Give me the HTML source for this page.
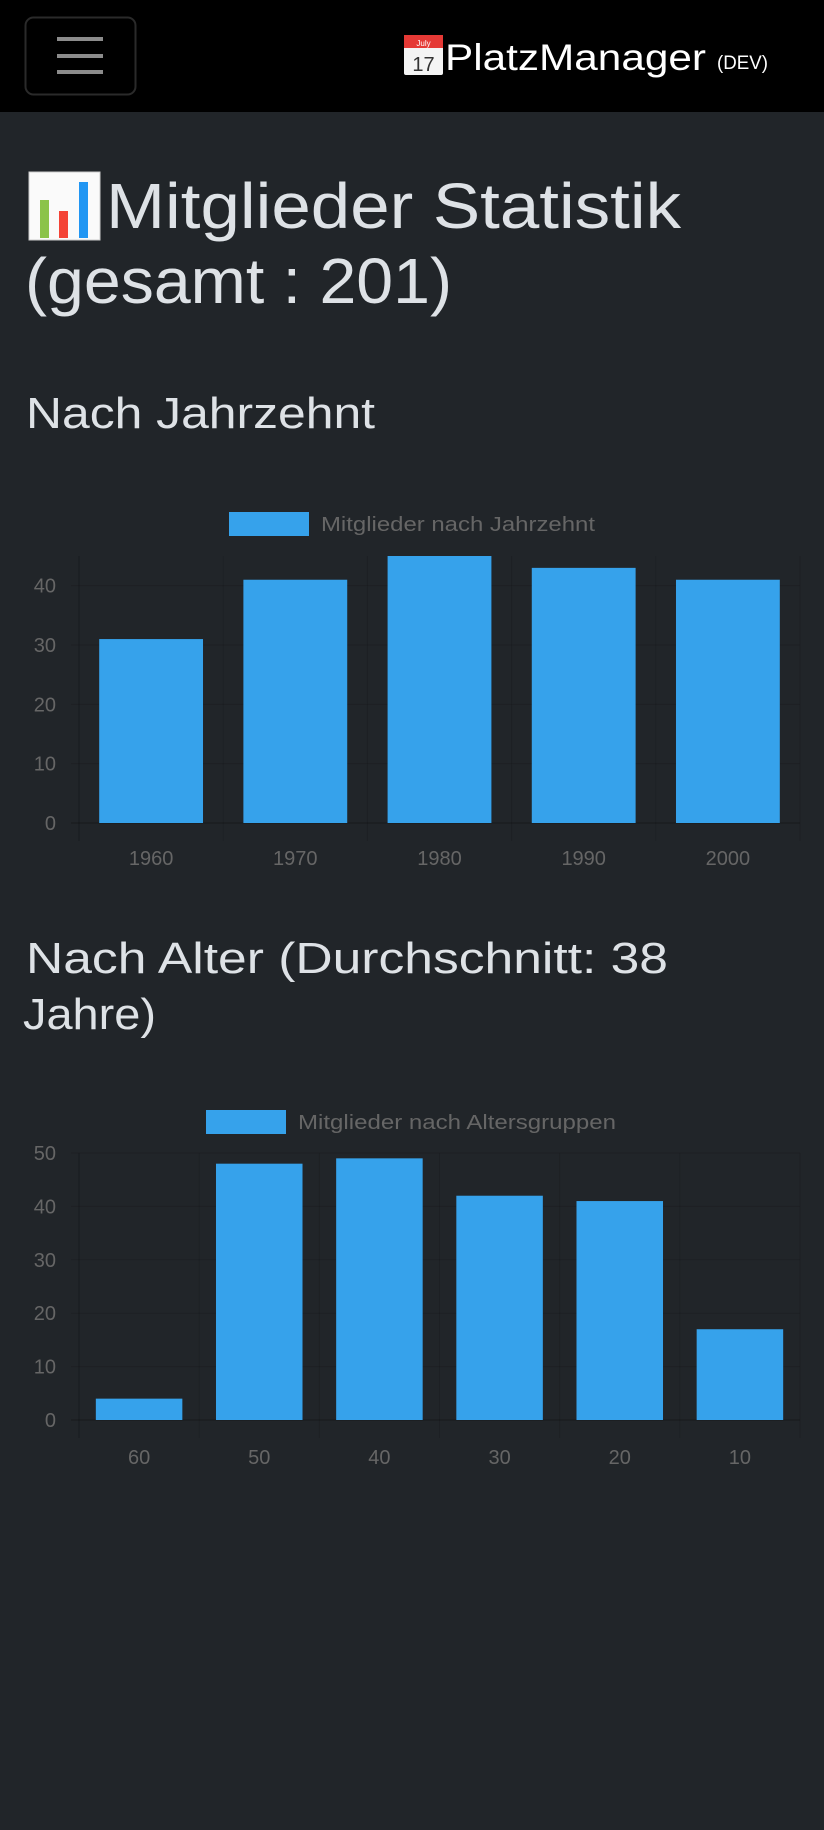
<!DOCTYPE html>
<html><head><meta charset="utf-8">
<style>
html,body{margin:0;padding:0;background:#212529;width:824px;height:1830px;overflow:hidden;font-family:"Liberation Sans",sans-serif;}
svg{position:absolute;left:0;top:0;}
</style></head>
<body>
<svg width="824" height="1830">
  <rect x="0" y="0" width="824" height="112" fill="#000"/>
  <g>
    <rect x="25.5" y="17.5" width="110" height="77" rx="8" fill="none" stroke="#2a2a2a" stroke-width="2"/>
    <rect x="57" y="37" width="46" height="4" fill="#8c8c8c"/>
    <rect x="57" y="54" width="46" height="4" fill="#8c8c8c"/>
    <rect x="57" y="70" width="46" height="4" fill="#8c8c8c"/>
  </g>
  <g>
    <rect x="404" y="35" width="39" height="40" rx="2" fill="#f4f4f4"/>
    <rect x="404" y="35" width="39" height="13" fill="#e53935"/>
    <text x="423.5" y="46" font-size="8" fill="#fff" text-anchor="middle">July</text>
    <text x="423.5" y="71" font-size="20" fill="#333" text-anchor="middle">17</text>
  </g>
  <text x="445" y="70" font-size="37" fill="#fff" textLength="261" lengthAdjust="spacingAndGlyphs">PlatzManager</text>
  <text x="717" y="69" font-size="19" fill="#fff" textLength="51" lengthAdjust="spacingAndGlyphs">(DEV)</text>

  <g>
    <rect x="29" y="172" width="71" height="68" fill="#fafafa" stroke="#ccc"/>
    <rect x="40" y="200" width="9" height="38" fill="#8bc34a"/>
    <rect x="59" y="211" width="9" height="27" fill="#f44336"/>
    <rect x="79" y="182" width="9" height="56" fill="#2196f3"/>
  </g>
  <text x="106" y="228" font-size="64" fill="#dee2e6" textLength="575" lengthAdjust="spacingAndGlyphs">Mitglieder Statistik</text>
  <text x="25" y="303" font-size="64" fill="#dee2e6" textLength="427" lengthAdjust="spacingAndGlyphs">(gesamt : 201)</text>

  <text x="26" y="428" font-size="44" fill="#dee2e6" textLength="349" lengthAdjust="spacingAndGlyphs">Nach Jahrzehnt</text>
  <text x="26" y="973" font-size="44" fill="#dee2e6" textLength="642" lengthAdjust="spacingAndGlyphs">Nach Alter (Durchschnitt: 38</text>
  <text x="23" y="1029" font-size="44" fill="#dee2e6" textLength="133" lengthAdjust="spacingAndGlyphs">Jahre)</text>

  <g id="chart1"></g>
  <g id="chart2"></g>
</svg>
<script>
const decadeCategories = ["1960","1970","1980","1990","2000"];
const decadeValues = [31, 41, 45, 43, 41];
const decadeTicks = [0, 10, 20, 30, 40];
const decadeMax = 45;
const ageCategories = ["60","50","40","30","20","10"];
const ageValues = [4, 48, 49, 42, 41, 17];
const ageTicks = [0, 10, 20, 30, 40, 50];
const ageMax = 50;

const NS = "http://www.w3.org/2000/svg";
function mk(tag, attrs, parent){
  const e = document.createElementNS(NS, tag);
  for (const k in attrs) e.setAttribute(k, attrs[k]);
  parent.appendChild(e);
  return e;
}
function drawChart(g, cats, vals, ticks, maxV, cfg, legendText){
  const left = 79, right = 800, top = cfg.top, bottom = cfg.bottom;
  const yScale = v => bottom - (v / maxV) * (bottom - top);
  const bandW = (right - left) / cats.length;
  const xScale = i => left + bandW * i;
  ticks.forEach(t => {
    const y = yScale(t);
    const l = mk("line", {x1: left - 8, x2: right, y1: y, y2: y, stroke: t === 0 ? "rgba(0,0,0,0.3)" : "rgba(0,0,0,0.12)", "stroke-width": 1}, g);
    
    
    const tx = mk("text", {x: 56, y: y + 7, "font-size": 20, fill: "#666", "text-anchor": "end"}, g);
    tx.textContent = t;
    
    
  });
  for (let i = 0; i <= cats.length; i++) {
    const x = xScale(i);
    const l = mk("line", {x1: x, x2: x, y1: top, y2: bottom + 18, stroke: i === 0 ? "rgba(0,0,0,0.25)" : "rgba(0,0,0,0.12)", "stroke-width": 1}, g);
    
    
  }
  cats.forEach((c, i) => {
    const bw = bandW * 0.72;
    const x = xScale(i) + (bandW - bw) / 2;
    const y = yScale(vals[i]);
    const r = mk("rect", {x: x, y: y, width: bw, height: bottom - y, fill: "#36a2eb"}, g);
    
    
    const tx = mk("text", {x: xScale(i) + bandW / 2, y: cfg.labelY, "font-size": 20, fill: "#666", "text-anchor": "middle"}, g);
    tx.textContent = c;
    
    
  });
  const lb = mk("rect", {x: cfg.legX, y: cfg.legY, width: 80, height: 24, fill: "#36a2eb"}, g);
  
  
  const lt = mk("text", {x: cfg.legX + 92, y: cfg.legY + 19, "font-size": 20, fill: "#666", textLength: cfg.legW, lengthAdjust: "spacingAndGlyphs"}, g);
  lt.textContent = legendText;
  
  
}
drawChart(document.getElementById("chart1"), decadeCategories, decadeValues, decadeTicks, decadeMax,
  {top: 556, bottom: 823, labelY: 865, legX: 229, legY: 512, legW: 274}, "Mitglieder nach Jahrzehnt");
drawChart(document.getElementById("chart2"), ageCategories, ageValues, ageTicks, ageMax,
  {top: 1153, bottom: 1420, labelY: 1464, legX: 206, legY: 1110, legW: 318}, "Mitglieder nach Altersgruppen");
</script>
</body></html>
